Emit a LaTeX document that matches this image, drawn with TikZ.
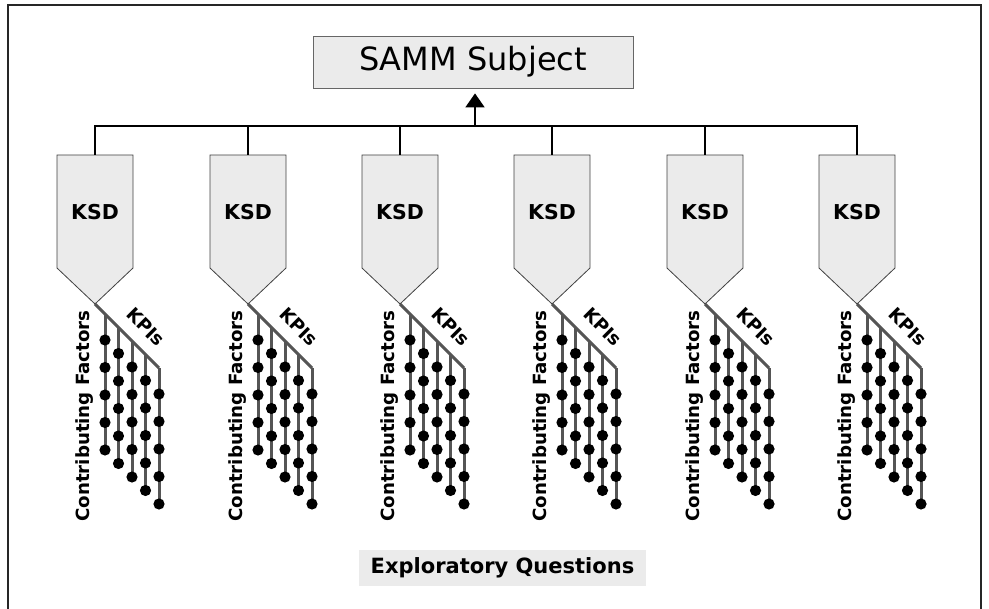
\documentclass[tikz,border=0pt]{standalone}
\usepackage{fontspec}
\setmainfont{DejaVu Sans}
\usetikzlibrary{arrows.meta, positioning}

\definecolor{boxgray}{HTML}{EBEBEB}
\definecolor{stemgray}{HTML}{555555}

\begin{document}
\begin{tikzpicture}[
    x=1pt, y=-1pt,
    subject/.style={draw=black!60, fill=boxgray, line width=0.8pt,
                    minimum width=320pt, minimum height=52pt,
                    font=\fontsize{32}{38}\selectfont},
    ksd/.style={font=\fontsize{20.5}{24}\selectfont\bfseries},
    pent/.style={draw=black!75, fill=boxgray, line width=0.8pt},
    stem/.style={draw=stemgray, line width=3pt},
    lbl/.style={font=\fontsize{18.2}{21}\selectfont\bfseries, inner sep=0pt},
    link/.style={line width=1.8pt},
    explore/.style={fill=boxgray, minimum width=287pt, minimum height=36pt,
                    font=\fontsize{21}{25}\selectfont\bfseries},
    >={Triangle[length=14pt, width=19pt]}
  ]
  \useasboundingbox (0,0) rectangle (989,609);
  % frame, open at the bottom
  \draw[line width=1.6pt, black!85] (8,609) -- (8,5) -- (981,5) -- (981,609);

  \node[subject] (samm) at (473,62) {SAMM Subject};
  \coordinate (bus) at (475,126);

  % one KSD with its factors and KPIs per column
  \foreach \i/\cx in {1/95, 2/248, 3/400, 4/552, 5/705, 6/857} {
    \path[pent] (\cx-38,155) -- (\cx+38,155) -- (\cx+38,268)
      -- (\cx,304) -- (\cx-38,268) -- cycle;
    \node[ksd] (ksd\i) at (\cx,212) {KSD};
    \coordinate (top\i) at (\cx,155);
    \coordinate (tip\i) at (\cx,304);
    \coordinate (bend\i) at (\cx+64,368);
    \draw[stem] (tip\i) -- (bend\i);
    \foreach \k in {0,...,4} {
      \foreach \j in {0,...,4}
        \coordinate (dot\i-\k-\j) at (\cx+10+13.5*\k, 340+13.5*\k+27.5*\j);
      \draw[stem] (\cx+10+13.5*\k, 314+13.5*\k) -- (dot\i-\k-4);
      \foreach \j in {0,...,4}
        \fill (dot\i-\k-\j) circle (5.6pt);
    }
    \node[lbl, rotate=90] (cf\i) at (\cx-10.5,416) {Contributing Factors};
    \node[lbl, rotate=-45] (kpi\i) at (\cx+51,327) {KPIs};
  }

  % links up to the subject
  \draw[link] (top1) -- (top1 |- bus) -- (top6 |- bus) -- (top6);
  \foreach \i in {2,...,5}
    \draw[link] (top\i) -- (top\i |- bus);
  \draw[link, ->] (bus) -- ([yshift=-5pt]bus |- samm.south);

  \node[explore] (eq) at (502.5,568) {Exploratory Questions};
\end{tikzpicture}
\end{document}
